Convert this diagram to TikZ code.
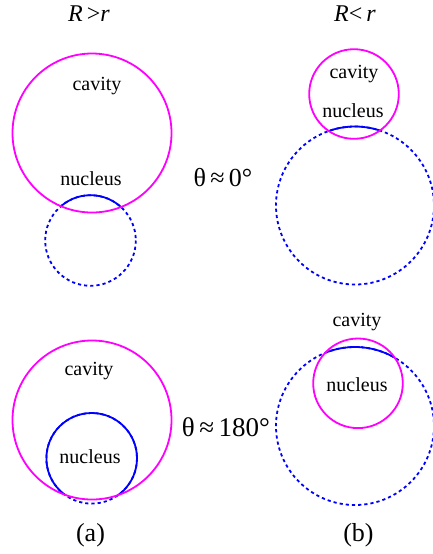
\documentclass[tikz,border=0pt]{standalone}
\usepackage{fontspec}
\setmainfont{Liberation Serif}
\definecolor{cavmag}{RGB}{255,0,255}
\definecolor{nucblue}{RGB}{0,0,255}
\begin{document}
\begin{tikzpicture}[x=0.5pt, y=-0.5pt, line join=round,
  cav/.style={draw=cavmag, line width=0.9pt},
  nuc/.style={draw=nucblue, line width=0.9pt},
  nucout/.style={draw=nucblue, line width=0.9pt, dash pattern=on 1.6pt off 1.5pt},
  lab/.style={font=\fontsize{10}{12}\selectfont, inner sep=0pt},
  big/.style={font=\fontsize{12}{14}\selectfont, inner sep=0pt}]
  \useasboundingbox (0,0) rectangle (433,554);
  \def\Rbig{79.5}
  \def\Rsml{44.8}
  \def\rbig{79}
  \def\rsml{45.3}
  % centres
  \coordinate (CA1) at (92,133);
  \coordinate (NA1) at (90.5,240.5);
  \coordinate (CA2) at (92,420);
  \coordinate (NA2) at (91.7,458.3);
  \coordinate (CB1) at (354,94);
  \coordinate (NB1) at (355,205.5);
  \coordinate (CB2) at (358,383.3);
  \coordinate (NB2) at (355,426);

  % (a), theta ~ 0
  \draw[nucout] (NA1) circle (\rsml);
  \begin{scope}
    \clip (CA1) circle (\Rbig);
    \draw[nuc] (NA1) circle (\rsml);
  \end{scope}
  \draw[cav] (CA1) circle (\Rbig);

  % (a), theta ~ 180
  \draw[nucout] (NA2) circle (\rsml);
  \begin{scope}
    \clip (CA2) circle (\Rbig);
    \draw[nuc] (NA2) circle (\rsml);
  \end{scope}
  \draw[cav] (CA2) circle (\Rbig);

  % (b), theta ~ 0
  \draw[nucout] (NB1) circle (\rbig);
  \begin{scope}
    \clip (CB1) circle (\Rsml);
    \draw[nuc] (NB1) circle (\rbig);
  \end{scope}
  \draw[cav] (CB1) circle (\Rsml);

  % (b), theta ~ 180
  \draw[nucout] (NB2) circle (\rbig);
  \begin{scope}
    \clip (CB2) circle (\Rsml);
    \draw[nuc] (NB2) circle (\rbig);
  \end{scope}
  \draw[cav] (CB2) circle (\Rsml);

  % labels
  \node[lab] (cavA1) at (97,86) {cavity};
  \node[lab] (nucA1) at (91,179) {nucleus};
  \node[lab] (cavA2) at (89,371) {cavity};
  \node[lab] (nucA2) at (90,457) {nucleus};
  \node[lab] (cavB1) at (354,74) {cavity};
  \node[lab] (nucB1) at (353,111) {nucleus};
  \node[lab] (cavB2) at (357,322) {cavity};
  \node[lab] (nucB2) at (357,385) {nucleus};

  \node[big] (ttlA) at (89,14) {\textit{R}\,>\textit{r}};
  \node[big] (ttlB) at (355,14) {\textit{R}<\,\textit{r}};
  \node[font=\fontsize{13}{15}\selectfont, inner sep=0pt] (th0) at (223,178) {θ\,≈\,0°};
  \node[font=\fontsize{13.5}{16}\selectfont, inner sep=0pt] (th180) at (226,427) {θ\,≈\,180°};
  \node[font=\fontsize{13}{15}\selectfont, inner sep=0pt] (capA) at (90.5,535) {(a)};
  \node[font=\fontsize{13}{15}\selectfont, inner sep=0pt] (capB) at (358.5,535) {(b)};
\end{tikzpicture}
\end{document}
